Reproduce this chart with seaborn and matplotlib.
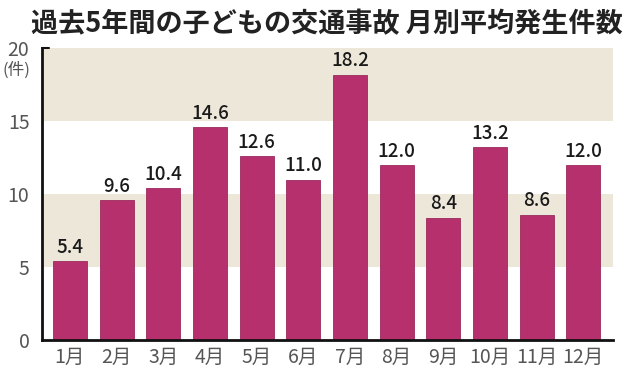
import matplotlib
matplotlib.use("Agg")
import matplotlib.pyplot as plt
import seaborn as sns
import pandas as pd

# Data
months = ["1月", "2月", "3月", "4月", "5月", "6月", "7月", "8月", "9月", "10月", "11月", "12月"]
counts = [5.4, 9.6, 10.4, 14.6, 12.6, 11.0, 18.2, 12.0, 8.4, 13.2, 8.6, 12.0]
yticks = [0, 5, 10, 15, 20]

df = pd.DataFrame({"month": months, "count": counts})

sns.set_style("white")
plt.rcParams["font.family"] = ["Noto Sans CJK JP", "DejaVu Sans"]

fig = plt.figure(figsize=(6.25, 3.8), dpi=100)
ax = fig.add_axes([0.067, 0.105, 0.914, 0.768])

# beige bands
for lo, hi in [(5, 10), (15, 20)]:
    ax.axhspan(lo, hi, color="#ece7d9", zorder=0, lw=0)

sns.barplot(data=df, x="month", y="count", color="#b5306c", width=0.73,
            edgecolor="#9a2a5c", linewidth=0.6, saturation=1, ax=ax, zorder=2)

for i, v in enumerate(counts):
    ax.text(i, v + 0.3, f"{v:.1f}", ha="center", va="bottom",
            fontsize=13.5, fontweight="medium", color="#1a1a1a")

ax.set_ylim(0, 20)
ax.set_xlim(-0.6, 11.64)
ax.set_yticks(yticks)
ax.set_yticklabels([str(t) for t in yticks])
ax.set_xlabel("")
ax.set_ylabel("")
ax.tick_params(axis="both", length=0, labelsize=14, labelcolor="#555555")
ax.tick_params(axis="x", pad=5)
ax.tick_params(axis="y", pad=9)

for s in ["top", "right"]:
    ax.spines[s].set_visible(False)
for s in ["left", "bottom"]:
    ax.spines[s].set_color("#111111")
    ax.spines[s].set_linewidth(2)

ax.plot([0, 0.012], [1, 1], transform=ax.transAxes, color="#111111", lw=1.5, clip_on=False)
ax.text(-0.045, 0.925, "(件)", transform=ax.transAxes, ha="center", va="center",
        fontsize=12, color="#555555")

fig.text(0.523, 0.935, "過去5年間の子どもの交通事故 月別平均発生件数", ha="center", va="center",
         fontsize=19.5, fontweight="bold", color="#222222")

fig.savefig("out.png", dpi=100)
